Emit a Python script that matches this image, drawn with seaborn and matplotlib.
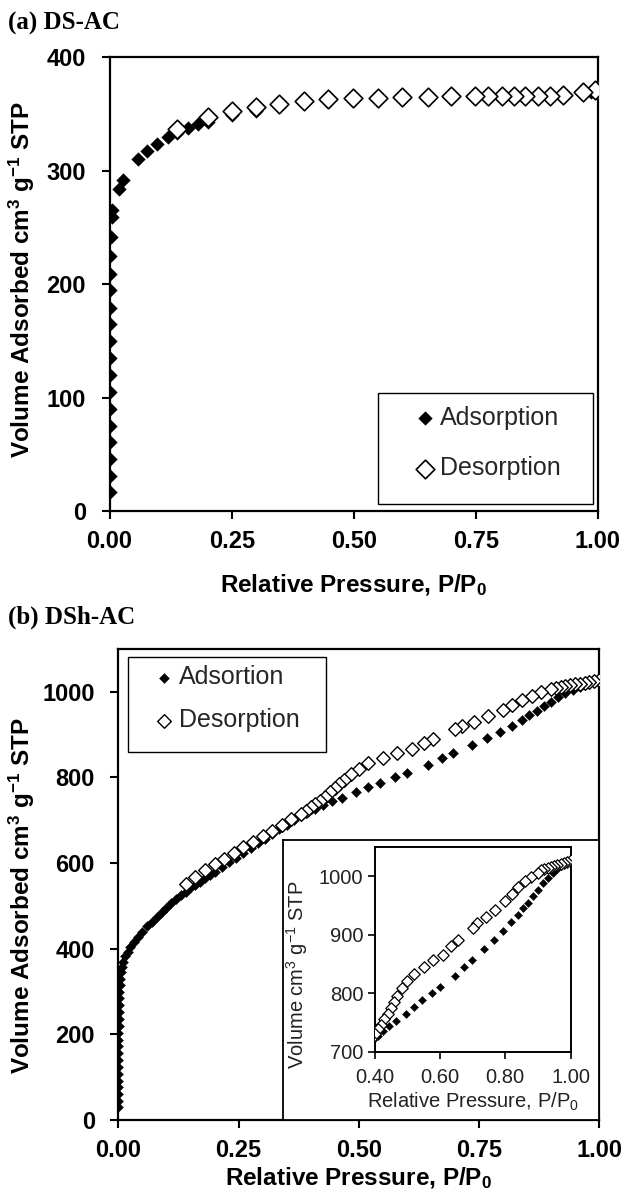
import numpy as np
import pandas as pd
import matplotlib
matplotlib.use('Agg')
import matplotlib.pyplot as plt
from matplotlib.patches import Rectangle
from matplotlib.ticker import FormatStrFormatter
import seaborn as sns

# ---------------- data ----------------
# (a) DS-AC
ads_a_x = [0, 0, 0, 0, 0, 0, 0, 0, 0, 0, 0, 0, 0, 0, 0, 0.002, 0.004, 0.005,
           0.020, 0.028, 0.059, 0.076, 0.098, 0.119, 0.139, 0.161, 0.182, 0.202,
           0.250, 0.299, 0.347, 0.398, 0.448, 0.499, 0.550, 0.599, 0.651, 0.700,
           0.748, 0.803, 0.827, 0.851, 0.878, 0.902, 0.929, 0.970, 0.985, 0.994, 1.000]
ads_a_y = [17, 31, 46, 61, 75, 90, 105, 120, 135, 150, 165, 179, 195, 209, 225, 242, 259, 265,
           284, 292, 310, 317, 324, 330, 333, 338, 341, 343,
           349, 353, 357, 360, 362, 363, 364, 364, 364.5, 364.5,
           365, 365, 365, 365, 365, 365.5, 366, 368, 369, 370, 371]
des_a_x = [1.000, 0.994, 0.970, 0.929, 0.902, 0.878, 0.851, 0.827, 0.803, 0.775, 0.748,
           0.700, 0.651, 0.599, 0.550, 0.499, 0.448, 0.398, 0.347, 0.299, 0.250, 0.202, 0.139]
des_a_y = [371, 371, 369, 367, 366, 366, 366, 366, 366, 366, 365.5,
           365.5, 365, 365, 364.5, 364, 363, 361.5, 359, 356, 352.5, 347, 337]

# (b) DSh-AC
ads_b_x = [0.000, 0.000, 0.000, 0.000, 0.000, 0.000, 0.000, 0.000, 0.000, 0.000, 0.000, 0.000,
           0.001, 0.001, 0.001, 0.001, 0.002, 0.002, 0.003, 0.004, 0.005, 0.007, 0.010, 0.014,
           0.019, 0.025, 0.032, 0.040, 0.050, 0.060, 0.070, 0.080, 0.090, 0.100, 0.110, 0.120,
           0.130, 0.140, 0.150, 0.160, 0.170, 0.180, 0.190, 0.200, 0.215, 0.230, 0.245, 0.260,
           0.275, 0.290, 0.305, 0.320, 0.335, 0.350, 0.365, 0.380, 0.395, 0.410, 0.425, 0.445,
           0.465, 0.495, 0.520, 0.545, 0.575, 0.600, 0.645, 0.673, 0.697, 0.735, 0.766, 0.794,
           0.818, 0.839, 0.855, 0.870, 0.885, 0.900, 0.915, 0.930, 0.945, 0.960, 0.970, 0.980,
           0.990, 0.995, 1.000]
ads_b_y = [30, 45, 60, 76, 92, 108, 124, 140, 156, 172, 188, 204,
           220, 236, 252, 268, 284, 300, 315, 330, 345, 358, 370, 382,
           393, 405, 416, 427, 440, 452, 463, 474, 485, 496, 506, 515,
           525, 533, 541, 549, 557, 565, 573, 580, 591, 602, 613, 624,
           635, 646, 657, 668, 679, 689, 700, 710, 719, 727, 735, 744,
           753, 765, 777, 788, 800, 810, 829, 845, 856, 875, 891, 906,
           921, 934, 945, 955, 966, 977, 988, 997, 1005, 1012, 1017, 1021,
           1024, 1026, 1027]
des_b_x = [1.00, 0.99, 0.98, 0.97, 0.96, 0.95, 0.94, 0.93, 0.92, 0.91, 0.90, 0.88,
           0.86, 0.84, 0.82, 0.80, 0.77, 0.74, 0.715, 0.70, 0.655, 0.635, 0.61, 0.58,
           0.55, 0.52, 0.50, 0.485, 0.47, 0.46, 0.45, 0.44, 0.43, 0.42, 0.41, 0.40,
           0.39, 0.38, 0.36, 0.34, 0.32, 0.30, 0.28, 0.26, 0.24, 0.22, 0.20, 0.18,
           0.16, 0.14]
des_b_y = [1027, 1025, 1023, 1021, 1019, 1018, 1016, 1014, 1012, 1010, 1006, 999,
           991, 981, 970, 958, 943, 930, 920, 912, 890, 880, 866, 856,
           845, 833, 820, 808, 795, 785, 775, 765, 755, 745, 738, 730,
           722, 715, 702, 690, 676, 663, 650, 637, 624, 610, 597, 583,
           568, 552]

labels_a = ['Adsorption', 'Desorption']
labels_b = ['Adsortion', 'Desorption']
xticks_main = [0.0, 0.25, 0.5, 0.75, 1.0]
yticks_a = [0, 100, 200, 300, 400]
yticks_b = [0, 200, 400, 600, 800, 1000]
xticks_in = [0.4, 0.6, 0.8, 1.0]
yticks_in = [700, 800, 900, 1000]

# ---------------- style ----------------
sns.set_theme(style='white')
plt.rcParams['font.family'] = ['Liberation Sans', 'DejaVu Sans']
plt.rcParams['mathtext.default'] = 'regular'

W, H = 622, 1191
fig = plt.figure(figsize=(W / 100, H / 100), dpi=100)


def fx(px):
    return px / W


def fy(py):
    return 1 - py / H


def box(l, t, r, b):
    return [l / W, 1 - b / H, (r - l) / W, (b - t) / H]


ax_a = fig.add_axes(box(109.6, 57.3, 598, 511))
ax_b = fig.add_axes(box(118.4, 649, 599, 1120))
ax_o = fig.add_axes(box(283, 840, 599, 1120))
ax_i = fig.add_axes(box(374.5, 847, 570.5, 1051.5))

df_ads_a = pd.DataFrame({'p': ads_a_x, 'v': ads_a_y})
df_des_a = pd.DataFrame({'p': des_a_x, 'v': des_a_y})
df_ads_b = pd.DataFrame({'p': ads_b_x, 'v': ads_b_y})
df_des_b = pd.DataFrame({'p': des_b_x, 'v': des_b_y})


def draw(ax, dfa, dfd, lab, s_f, s_o, lw_o):
    sns.scatterplot(data=dfa, x='p', y='v', ax=ax, marker='D', s=s_f, color='black',
                    edgecolor='black', linewidth=0.3, label=lab[0], legend=False, zorder=3)
    sns.scatterplot(data=dfd, x='p', y='v', ax=ax, marker='D', s=s_o, color='white',
                    edgecolor='black', linewidth=lw_o, label=lab[1], legend=False, zorder=4)


draw(ax_a, df_ads_a, df_des_a, labels_a, 48, 90, 1.2)
draw(ax_b, df_ads_b, df_des_b, labels_b, 26, 48, 1.0)
draw(ax_i, df_ads_b, df_des_b, labels_b, 17, 34, 0.9)


def style_main(ax, ylim, yticks):
    ax.set_xlim(0, 1)
    ax.set_ylim(*ylim)
    ax.set_xticks(xticks_main)
    ax.set_yticks(yticks)
    ax.xaxis.set_major_formatter(FormatStrFormatter('%.2f'))
    for s in ax.spines.values():
        s.set_linewidth(1.6)
        s.set_color('black')
        s.set_visible(True)
    ax.tick_params(axis='both', which='major', direction='out', length=6, width=1.5,
                   color='black', labelsize=17, labelcolor='black',
                   bottom=True, left=True, top=False, right=False)
    ax.tick_params(axis='y', pad=11)
    ax.tick_params(axis='x', pad=8)
    for t in ax.get_xticklabels() + ax.get_yticklabels():
        t.set_fontweight('bold')
    ax.set_facecolor('white')


style_main(ax_a, (0, 400), yticks_a)
style_main(ax_b, (0, 1100), yticks_b)

ylab = 'Volume Adsorbed cm$^{3}$ g$^{-1}$ STP'
xlab = 'Relative Pressure, P/P$_{0}$'
for ax, xl_off, yl_x, yl_y in [(ax_a, -(585 - 511) / (511 - 57.3), (22 - 109.6) / 488.4, 0.509),
                               (ax_b, -(1178 - 1120) / 471.0, (22 - 118.4) / 480.6, 0.476)]:
    ax.set_xlabel(xlab, fontsize=17.5, fontweight='bold', color='black')
    ax.set_ylabel(ylab, fontsize=17.5, fontweight='bold', color='black')
    ax.xaxis.set_label_coords(0.5, xl_off)
    ax.xaxis.label.set_va('center')
    ax.yaxis.set_label_coords(yl_x, yl_y)
    ax.yaxis.label.set_va('center')

# outer inset box
ax_o.set_xticks([])
ax_o.set_yticks([])
ax_o.set_facecolor('white')
for s in ax_o.spines.values():
    s.set_visible(True)
    s.set_linewidth(1.3)
    s.set_color('black')

# inner inset axes
ax_i.set_xlim(0.4, 1.0)
ax_i.set_ylim(700, 1050)
ax_i.set_xticks(xticks_in)
ax_i.set_yticks(yticks_in)
ax_i.xaxis.set_major_formatter(FormatStrFormatter('%.2f'))
for s in ax_i.spines.values():
    s.set_visible(True)
    s.set_linewidth(1.4)
    s.set_color('black')
ax_i.tick_params(axis='both', direction='out', length=5, width=1.2, color='black',
                 labelsize=14.5, labelcolor='#222222', bottom=True, left=True)
ax_i.tick_params(axis='y', pad=3)
ax_i.tick_params(axis='x', pad=7)
ax_i.set_xlabel(xlab, fontsize=14.5, color='#222222')
ax_i.set_ylabel('Volume cm$^{3}$ g$^{-1}$ STP', fontsize=14.5, color='#222222')
ax_i.xaxis.set_label_coords(0.5, -(1102 - 1051.5) / 204.5)
ax_i.xaxis.label.set_va('center')
ax_i.yaxis.set_label_coords((297 - 374.5) / 196.0, 0.374)
ax_i.yaxis.label.set_va('center')
ax_i.set_facecolor('white')

# legends
for ax, hx, ry, sp, rect in [(ax_a, 417, 405.5, 1.08, (378, 393, 593, 504)),
                             (ax_b, 156.8, 665.5, 0.76, (128, 657, 326, 752))]:
    ax.legend(loc='upper left', bbox_to_anchor=(fx(hx), fy(ry)), bbox_transform=fig.transFigure,
              frameon=False, borderpad=0, borderaxespad=0, handlelength=0.6,
              handletextpad=0.3, labelspacing=sp, fontsize=18)
    l, t, r, b = rect
    fig.add_artist(Rectangle((fx(l), fy(b)), (r - l) / W, (b - t) / H,
                             transform=fig.transFigure, fill=False,
                             edgecolor='black', linewidth=1.0))

# panel titles
fig.text(fx(8), fy(23), '(a) DS-AC', family=['Liberation Serif', 'DejaVu Serif'],
         weight='bold', fontsize=18, va='center', ha='left', color='black')
fig.text(fx(8), fy(617), '(b) DSh-AC', family=['Liberation Serif', 'DejaVu Serif'],
         weight='bold', fontsize=18, va='center', ha='left', color='black')

fig.savefig('out.png', dpi=100, facecolor='white')
